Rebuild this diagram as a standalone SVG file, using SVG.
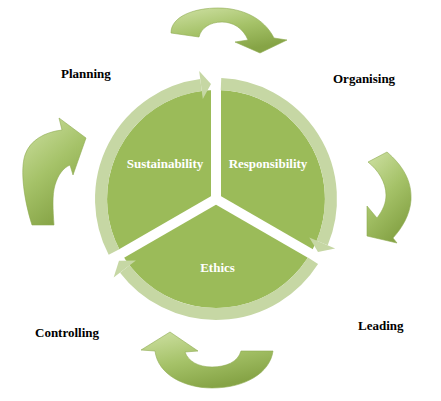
<svg xmlns="http://www.w3.org/2000/svg" width="441" height="401" viewBox="0 0 441 401">
<defs>
<linearGradient id="ag" x1="0" y1="0" x2="0.5" y2="1">
<stop offset="0" stop-color="#cfe1a4"/>
<stop offset="0.55" stop-color="#a5c268"/>
<stop offset="1" stop-color="#86a446"/>
</linearGradient>
<style>
.lbl{font-family:"Liberation Serif","Times New Roman",serif;font-weight:bold;font-size:13px;fill:#000}
.pt{font-family:"Liberation Serif","Times New Roman",serif;font-weight:bold;font-size:13px;fill:#fff;text-anchor:middle}
.ring{fill:none;stroke:#c6d7a4;stroke-width:12}
.head{fill:#c6d7a4}
.big{fill:url(#ag);stroke:#8fab52;stroke-width:0.6}
.sep{stroke:#fff;stroke-width:10}
</style>
</defs>
<rect width="441" height="401" fill="#fff"/>

<g id="cycle">
<circle cx="216" cy="199" r="109" fill="#9bbb59"/>
<g id="separators">
<line class="sep" x1="216" y1="199" x2="216" y2="70"/>
<line class="sep" x1="216" y1="199" x2="328.6" y2="264"/>
<line class="sep" x1="216" y1="199" x2="103.4" y2="264"/>
</g>
</g>

<g id="connectors">
<path class="ring" d="M114,252.1 A115,115 0 0 1 201,85"/>
<path class="ring" d="M221,84.1 A115,115 0 0 1 322.2,243"/>
<path class="ring" d="M313,260.8 A115,115 0 0 1 124.8,269"/>
<polygon class="head" points="114.9,-5 100.1,-13.2 127.9,-16.8" transform="translate(216 199) rotate(270)"/>
<polygon class="head" points="114.9,-5 100.1,-13.2 127.9,-16.8" transform="translate(216 199) rotate(30)"/>
<polygon class="head" points="114.9,-5 100.1,-13.2 127.9,-16.8" transform="translate(216 199) rotate(150)"/>
</g>

<g id="sustainability"><text class="pt" x="165" y="168">Sustainability</text></g>
<g id="responsibility"><text class="pt" x="268" y="168">Responsibility</text></g>
<g id="ethics"><text class="pt" x="217.5" y="272">Ethics</text></g>

<g id="arrow-top"><path class="big" d="M171,33 C171,16 195,8 218,8 C242,8 264,18 274,38 L287,40 L260,53 L235,42 L248,40 C243,28 233,22 222,22 C210,22 201,28 199,37 Z"/></g>
<g id="arrow-right"><path class="big" d="M368,162 L387,152 C402,165 412,180 411,200 C410,215 402,228 393,238 L397,243 L367,236 L367,206 L377,218 C383,210 386,203 386,195 C386,182 378,170 368,162 Z"/></g>
<g id="arrow-bottom"><path class="big" d="M155,351 C158,375 185,388 212,388 C245,388 270,373 273,351 L241,351 C238,362 226,367 212,367 C198,367 188,361 185,352 L198,351 L170,332 L141,350 Z"/></g>
<g id="arrow-left"><path class="big" d="M32,225 L54,225 C53,210 52,195 55,185 C58,175 63,168 70,165 L73,175 L86,138 L59,118 L62,130 C45,132 30,140 25,155 C20,170 24,200 32,225 Z"/></g>

<g id="planning"><text class="lbl" x="61" y="78">Planning</text></g>
<g id="organising"><text class="lbl" x="333" y="83">Organising</text></g>
<g id="leading"><text class="lbl" x="358" y="330">Leading</text></g>
<g id="controlling"><text class="lbl" x="35" y="337">Controlling</text></g>
</svg>
